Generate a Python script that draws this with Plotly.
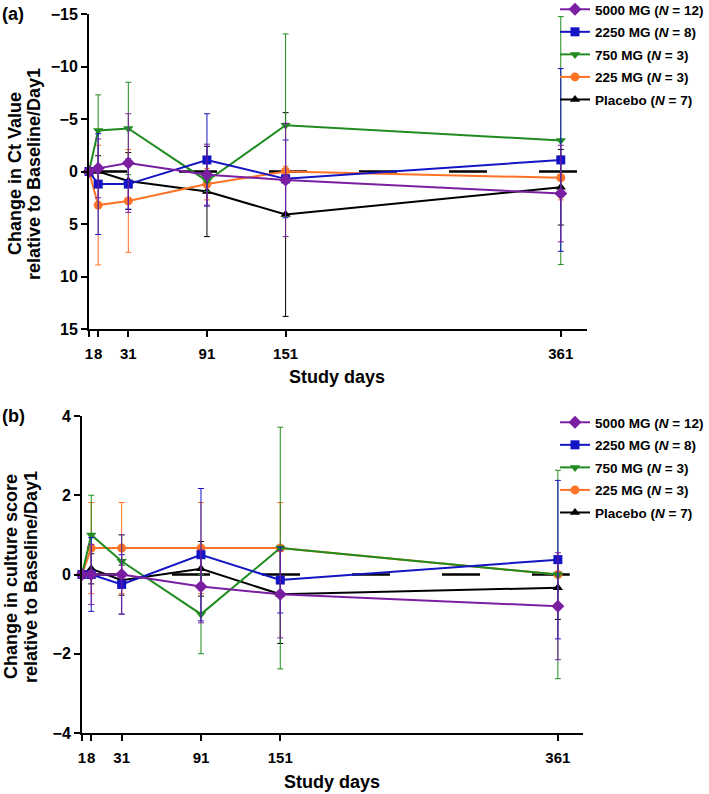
import plotly.graph_objects as go

# ---------------- data ----------------
days = [1, 8, 31, 91, 151, 361]
x_tick_vals = [1, 8, 31, 91, 151, 361]
x_tick_text = ["1", "8", "31", "91", "151", "361"]

groups = ["5000 MG (<i>N</i> = 12)", "2250 MG (<i>N</i> = 8)", "750 MG (<i>N</i> = 3)",
          "225 MG (<i>N</i> = 3)", "Placebo (<i>N</i> = 7)"]

# Panel (a): change in Ct value (mean, SD)
ct_5000 = [0, -0.3, -0.8, 0.3, 0.8, 2.1]
ct_5000_sd = [0, 2.8, 4.7, 2.9, 5.4, 4.6]
ct_2250 = [0, 1.2, 1.2, -1.1, 0.7, -1.1]
ct_2250_sd = [0, 4.8, 2.4, 4.4, 3.7, 8.7]
ct_750 = [0, -3.9, -4.1, 0.9, -4.4, -2.95]
ct_750_sd = [0, 3.4, 4.4, 1.0, 8.7, 11.8]
ct_225 = [0, 3.2, 2.8, 1.2, 0.0, 0.6]
ct_225_sd = [0, 5.7, 4.9, 1.5, 0.5, 2.1]
ct_plc = [0, 0.0, 0.9, 1.9, 4.1, 1.5]
ct_plc_sd = [0, 1.5, 2.7, 4.3, 9.7, 3.6]

# Panel (b): change in culture score (mean, SD)
cs_5000 = [0, 0, 0, -0.3, -0.5, -0.8]
cs_5000_sd = [0, 0.76, 1.0, 0.92, 1.1, 1.35]
cs_2250 = [0, 0, -0.25, 0.5, -0.14, 0.375]
cs_2250_sd = [0, 0.93, 0.75, 1.67, 0.83, 2.0]
cs_750 = [0, 1.0, 0.333, -1.0, 0.667, 0]
cs_750_sd = [0, 1.0, 0.67, 1.0, 3.05, 2.63]
cs_225 = [0, 0.667, 0.667, 0.667, 0.667, 0]
cs_225_sd = [0, 1.15, 1.15, 1.15, 1.15, 0]
cs_plc = [0, 0.143, -0.143, 0.143, -0.5, -0.333]
cs_plc_sd = [0, 0.38, 0.38, 0.69, 1.24, 0.8]

ct_y_ticks = [-15, -10, -5, 0, 5, 10, 15]
cs_y_ticks = [-4, -2, 0, 2, 4]

colors = ["#7a1fa2", "#1414c4", "#1f8c1f", "#ff7326", "#000000"]
symbols = ["diamond", "square", "triangle-down", "circle", "triangle-up"]
sizes = [10, 9, 9, 9, 9]

FONT = "Liberation Sans, Arial, sans-serif"

fig = go.Figure()

panel_a = [(ct_5000, ct_5000_sd), (ct_2250, ct_2250_sd), (ct_750, ct_750_sd),
           (ct_225, ct_225_sd), (ct_plc, ct_plc_sd)]
panel_b = [(cs_5000, cs_5000_sd), (cs_2250, cs_2250_sd), (cs_750, cs_750_sd),
           (cs_225, cs_225_sd), (cs_plc, cs_plc_sd)]

for panel, xa, ya, leg in [(panel_a, "x", "y", "legend"), (panel_b, "x2", "y2", "legend2")]:
    # draw placebo first, 5000 last
    for i in reversed(range(5)):
        vals, sd = panel[i]
        fig.add_trace(go.Scatter(
            x=days, y=vals, mode="lines+markers", name="<b>" + groups[i] + "</b>",
            line=dict(color=colors[i], width=2),
            marker=dict(symbol=symbols[i], size=sizes[i], color=colors[i]),
            error_y=dict(type="data", array=sd, visible=True, thickness=1, width=3,
                         color=colors[i]),
            xaxis=xa, yaxis=ya, legend=leg, legendgroup=f"{leg}_{i}",
            legendrank=1000 + i, cliponaxis=False,
        ))

def axis_common(size):
    return dict(showline=True, linecolor="black", linewidth=2, ticks="outside",
                ticklen=6, tickwidth=2, tickcolor="black", showgrid=False,
                zeroline=False, tickangle=0,
                tickfont=dict(family=FONT, size=size, color="black", weight="bold"))

legend_common = dict(xanchor="left", yanchor="top", traceorder="grouped",
                     tracegroupgap=2,
                     font=dict(family=FONT, size=13.5, color="black"),
                     bgcolor="rgba(0,0,0,0)")

fig.update_layout(
    width=709, height=794, margin=dict(l=0, r=0, t=0, b=0, autoexpand=False),
    paper_bgcolor="white", plot_bgcolor="white",
    font=dict(family=FONT, color="black"),
    xaxis=dict(domain=[89/709, 587/709], range=[1, 381], tickvals=x_tick_vals,
               ticktext=x_tick_text, anchor="y", ticklabelstandoff=4, **axis_common(15)),
    yaxis=dict(domain=[1-329/794, 1-14/794], range=[15, -15], tickvals=ct_y_ticks,
               anchor="x", **axis_common(16)),
    xaxis2=dict(domain=[82/709, 583/709], range=[1, 380], tickvals=x_tick_vals,
                ticktext=x_tick_text, anchor="y2", ticklabelstandoff=4, **axis_common(15)),
    yaxis2=dict(domain=[1-733/794, 1-416/794], range=[-4, 4], tickvals=cs_y_ticks,
                anchor="x2", **axis_common(16)),
    legend=dict(x=555/709, y=1+6/794, **legend_common),
    legend2=dict(x=555/709, y=1-407/794, **legend_common),
)

# baseline dashed reference line at 0
fig.add_shape(type="line", xref="x", yref="y", x0=1, x1=375,
              y0=0, y1=0, line=dict(color="black", width=2.5, dash="38px,52px"), layer="below")
fig.add_shape(type="line", xref="x2", yref="y2", x0=1, x1=370,
              y0=0, y1=0, line=dict(color="black", width=2.5, dash="38px,52px"), layer="below")

def ann(text, x, y, size=18, angle=0, xanchor="center"):
    fig.add_annotation(text=text, x=x/709, y=1-y/794, xref="paper", yref="paper",
                       showarrow=False, textangle=angle, xanchor=xanchor, yanchor="middle",
                       font=dict(family=FONT, size=size, color="black", weight="bold"))

ann("(a)", 0, 14, xanchor="left")
ann("(b)", 0, 416, xanchor="left")
ann("Change in Ct Value", 15, 174, angle=-90)
ann("relative to Baseline/Day1", 34, 174, angle=-90)
ann("Change in culture score", 11, 577, angle=-90)
ann("relative to Baseline/Day1", 31, 577, angle=-90)
ann("Study days", 337, 377)
ann("Study days", 332, 782)

fig.write_html("out.html", config={"displayModeBar": False},
               post_script="document.body.style.margin='0';")
